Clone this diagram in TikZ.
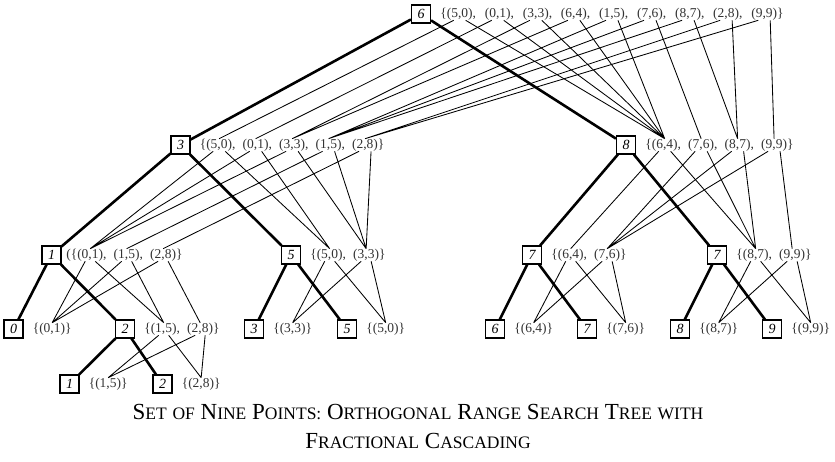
\documentclass[tikz,border=0pt]{standalone}
\usepackage{fontspec}
\setmainfont{Liberation Serif}
\usetikzlibrary{positioning}

% small capitals made by hand (Liberation Serif has none)
\newcommand{\capsm}[2]{#1{\fontsize{17.5}{20}\selectfont #2}}

\begin{document}
\begin{tikzpicture}[
    x=1pt, y=-1pt,
    keybox/.style={
        rectangle,
        draw=black,
        line width=1.1pt,
        minimum width=19pt,
        minimum height=18pt,
        inner sep=0pt,
        font=\fontsize{14}{14}\selectfont\itshape
    },
    entry/.style={
        inner sep=0pt,
        text=black!80,
        font=\fontsize{13.5}{13.5}\selectfont
    },
    listhead/.style={entry, right=15.5pt of #1},
    listnext/.style={entry, right=10.2pt of #1},
    rootnext/.style={entry, right=11.8pt of #1},
    treeedge/.style={line width=2.6pt},
    bridge/.style={line width=0.85pt},
    caption/.style={anchor=base, font=\fontsize{23}{26}\selectfont}
]
    \useasboundingbox (0,0) rectangle (835,461);

    % Key boxes of the tree
    \node (t)     [keybox] at (421,14)    {6};
    \node (tl)    [keybox] at (180.5,145) {3};
    \node (tr)    [keybox] at (626,145)   {8};
    \node (tll)   [keybox] at (51.5,255)  {1};
    \node (tlr)   [keybox] at (291,255)   {5};
    \node (trl)   [keybox] at (532,255)   {7};
    \node (trr)   [keybox] at (717,255)   {7};
    \node (tlll)  [keybox] at (13.5,329)  {0};
    \node (tllr)  [keybox] at (125,329)   {2};
    \node (tlrl)  [keybox] at (254,329)   {3};
    \node (tlrr)  [keybox] at (347,329)   {5};
    \node (trll)  [keybox] at (495,329)   {6};
    \node (trlr)  [keybox] at (587,329)   {7};
    \node (trrl)  [keybox] at (680,329)   {8};
    \node (trrr)  [keybox] at (772,329)   {9};
    \node (tllrl) [keybox] at (69.5,384)  {1};
    \node (tllrr) [keybox] at (162.5,384) {2};

    % Point lists (sorted by y)
    \node (t1) [listhead=t]  {\llap{\{}(5,0)\rlap{,}};
    \node (t2) [rootnext=t1] {(0,1)\rlap{,}};
    \node (t3) [rootnext=t2] {(3,3)\rlap{,}};
    \node (t4) [rootnext=t3] {(6,4)\rlap{,}};
    \node (t5) [rootnext=t4] {(1,5)\rlap{,}};
    \node (t6) [rootnext=t5] {(7,6)\rlap{,}};
    \node (t7) [rootnext=t6] {(8,7)\rlap{,}};
    \node (t8) [rootnext=t7] {(2,8)\rlap{,}};
    \node (t9) [rootnext=t8] {(9,9)\rlap{\}}};

    \node (tl1) [listhead=tl]  {\llap{\{}(5,0)\rlap{,}};
    \node (tl2) [listnext=tl1] {(0,1)\rlap{,}};
    \node (tl3) [listnext=tl2] {(3,3)\rlap{,}};
    \node (tl4) [listnext=tl3] {(1,5)\rlap{,}};
    \node (tl5) [listnext=tl4] {(2,8)\rlap{\}}};

    \node (tr1) [listhead=tr]  {\llap{\{}(6,4)\rlap{,}};
    \node (tr2) [listnext=tr1] {(7,6)\rlap{,}};
    \node (tr3) [listnext=tr2] {(8,7)\rlap{,}};
    \node (tr4) [listnext=tr3] {(9,9)\rlap{\}}};

    \node (tll1) [listhead=tll]  {\llap{(\{}(0,1)\rlap{,}};
    \node (tll2) [listnext=tll1] {(1,5)\rlap{,}};
    \node (tll3) [listnext=tll2] {(2,8)\rlap{\}}};
    \node (tlr1) [listhead=tlr]  {\llap{\{}(5,0)\rlap{,}};
    \node (tlr2) [listnext=tlr1] {(3,3)\rlap{\}}};
    \node (trl1) [listhead=trl]  {\llap{\{}(6,4)\rlap{,}};
    \node (trl2) [listnext=trl1] {(7,6)\rlap{\}}};
    \node (trr1) [listhead=trr]  {\llap{\{}(8,7)\rlap{,}};
    \node (trr2) [listnext=trr1] {(9,9)\rlap{\}}};

    \node (tlll1)  [listhead=tlll]  {\llap{\{}(0,1)\rlap{\}}};
    \node (tllr1)  [listhead=tllr]  {\llap{\{}(1,5)\rlap{,}};
    \node (tllr2)  [listnext=tllr1] {(2,8)\rlap{\}}};
    \node (tlrl1)  [listhead=tlrl]  {\llap{\{}(3,3)\rlap{\}}};
    \node (tlrr1)  [listhead=tlrr]  {\llap{\{}(5,0)\rlap{\}}};
    \node (trll1)  [listhead=trll]  {\llap{\{}(6,4)\rlap{\}}};
    \node (trlr1)  [listhead=trlr]  {\llap{\{}(7,6)\rlap{\}}};
    \node (trrl1)  [listhead=trrl]  {\llap{\{}(8,7)\rlap{\}}};
    \node (trrr1)  [listhead=trrr]  {\llap{\{}(9,9)\rlap{\}}};
    \node (tllrl1) [listhead=tllrl] {\llap{\{}(1,5)\rlap{\}}};
    \node (tllrr1) [listhead=tllrr] {\llap{\{}(2,8)\rlap{\}}};

    % Tree edges
    \draw [treeedge] (t)    -- (tl);
    \draw [treeedge] (t)    -- (tr);
    \draw [treeedge] (tl)   -- (tll);
    \draw [treeedge] (tl)   -- (tlr);
    \draw [treeedge] (tr)   -- (trl);
    \draw [treeedge] (tr)   -- (trr);
    \draw [treeedge] (tll)  -- (tlll);
    \draw [treeedge] (tll)  -- (tllr);
    \draw [treeedge] (tlr)  -- (tlrl);
    \draw [treeedge] (tlr)  -- (tlrr);
    \draw [treeedge] (trl)  -- (trll);
    \draw [treeedge] (trl)  -- (trlr);
    \draw [treeedge] (trr)  -- (trrl);
    \draw [treeedge] (trr)  -- (trrr);
    \draw [treeedge] (tllr) -- (tllrl);
    \draw [treeedge] (tllr) -- (tllrr);

    % Cascading pointers: root list
    \draw [bridge]
        ([xshift=-6pt]t1.south) -- (tl1.north) ([xshift=-6pt]t2.south) -- (tl2.north)
        ([xshift=-6pt]t3.south) -- (tl3.north) ([xshift=-6pt]t4.south) -- (tl3.north)
        ([xshift=-6pt]t5.south) -- (tl4.north) ([xshift=-6pt]t6.south) -- (tl4.north)
        ([xshift=-6pt]t7.south) -- (tl4.north) ([xshift=-6pt]t8.south) -- (tl5.north)
        ([xshift=-6pt]t9.south) -- (tl5.north);
    \draw [bridge]
        ([xshift=6pt]t1.south) -- (tr1.north) ([xshift=6pt]t2.south) -- (tr1.north)
        ([xshift=6pt]t3.south) -- (tr1.north) ([xshift=6pt]t4.south) -- (tr1.north)
        ([xshift=6pt]t5.south) -- (tr1.north) ([xshift=6pt]t6.south) -- (tr2.north)
        ([xshift=6pt]t7.south) -- (tr3.north) ([xshift=6pt]t8.south) -- (tr3.north)
        ([xshift=6pt]t9.south) -- (tr4.north);

    % Cascading pointers: second level
    \draw [bridge]
        ([xshift=-6pt]tl1.south) -- (tll1.north) ([xshift=-6pt]tl2.south) -- (tll1.north)
        ([xshift=-6pt]tl3.south) -- (tll1.north) ([xshift=-6pt]tl4.south) -- (tll2.north)
        ([xshift=-6pt]tl5.south) -- (tll3.north);
    \draw [bridge]
        ([xshift=6pt]tl1.south) -- (tlr1.north) ([xshift=6pt]tl2.south) -- (tlr1.north)
        ([xshift=6pt]tl3.south) -- (tlr2.north) ([xshift=6pt]tl4.south) -- (tlr2.north)
        ([xshift=6pt]tl5.south) -- (tlr2.north);
    \draw [bridge]
        ([xshift=-6pt]tr1.south) -- (trl1.north) ([xshift=-6pt]tr2.south) -- (trl2.north)
        ([xshift=-6pt]tr3.south) -- (trl2.north) ([xshift=-6pt]tr4.south) -- (trl2.north);
    \draw [bridge]
        ([xshift=6pt]tr1.south) -- (trr1.north) ([xshift=6pt]tr2.south) -- (trr1.north)
        ([xshift=6pt]tr3.south) -- (trr1.north) ([xshift=6pt]tr4.south) -- (trr2.north);

    % Cascading pointers: third level
    \draw [bridge]
        ([xshift=-5pt]tll1.south) -- (tlll1.north) ([xshift=-5pt]tll2.south) -- (tlll1.north)
        ([xshift=-5pt]tll3.south) -- (tlll1.north)
        ([xshift=5pt]tll1.south) -- (tllr1.north) ([xshift=5pt]tll2.south) -- (tllr1.north)
        ([xshift=5pt]tll3.south) -- (tllr2.north);
    \draw [bridge]
        ([xshift=-5pt]tlr1.south) -- (tlrl1.north) ([xshift=-5pt]tlr2.south) -- (tlrl1.north)
        ([xshift=5pt]tlr1.south) -- (tlrr1.north) ([xshift=5pt]tlr2.south) -- (tlrr1.north);
    \draw [bridge]
        ([xshift=-5pt]trl1.south) -- (trll1.north) ([xshift=-5pt]trl2.south) -- (trll1.north)
        ([xshift=5pt]trl1.south) -- (trlr1.north) ([xshift=5pt]trl2.south) -- (trlr1.north);
    \draw [bridge]
        ([xshift=-5pt]trr1.south) -- (trrl1.north) ([xshift=-5pt]trr2.south) -- (trrl1.north)
        ([xshift=5pt]trr1.south) -- (trrr1.north) ([xshift=5pt]trr2.south) -- (trrr1.north);

    % Cascading pointers: last level
    \draw [bridge]
        ([xshift=-5pt]tllr1.south) -- (tllrl1.north) ([xshift=-5pt]tllr2.south) -- (tllrl1.north)
        ([xshift=5pt]tllr1.south) -- (tllrr1.north) ([xshift=5pt]tllr2.south) -- (tllrr1.north);

    % Caption
    \node (cap1) [caption] at (418,419)
        {\capsm{S}{ET} \capsm{}{OF} \capsm{N}{INE} \capsm{P}{OINTS:} \capsm{O}{RTHOGONAL}
         \capsm{R}{ANGE} \capsm{S}{EARCH} \capsm{T}{REE} \capsm{}{WITH}};
    \node (cap2) [caption] at (418,448)
        {\capsm{F}{RACTIONAL} \capsm{C}{ASCADING}};

\end{tikzpicture}
\end{document}
